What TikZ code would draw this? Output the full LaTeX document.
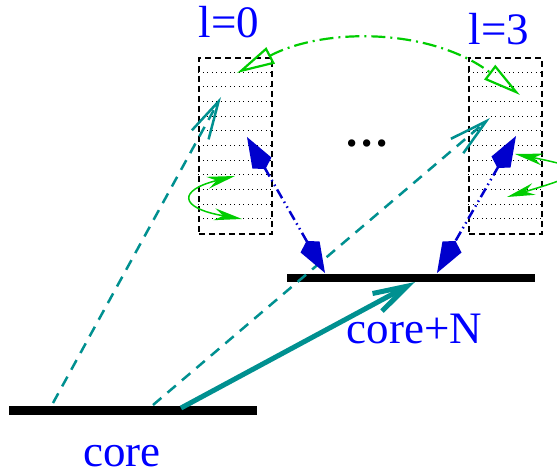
\documentclass[tikz,border=0pt]{standalone}
\usepackage{fontspec}
\setmainfont{Liberation Serif}
\usetikzlibrary{arrows.meta}
\definecolor{fteal}{RGB}{0,144,144}
\definecolor{fblue}{RGB}{0,0,205}
\definecolor{fgreen}{RGB}{0,205,0}

\begin{document}
\begin{tikzpicture}[x=1pt, y=1pt,
    lab/.style={text=blue, font=\fontsize{45}{50}\selectfont, anchor=base, inner sep=0pt},
    level/.style={draw, dash pattern=on 6pt off 4pt, line width=1.2pt, minimum width=73pt, minimum height=176pt, inner sep=0pt},
    slot/.style={dash pattern=on 1pt off 3.5pt, line width=1pt},
    bar/.style={line width=9pt},
    jump/.style={fteal, line width=5pt, -{Straight Barb[length=34pt, width=20pt]}},
    virt/.style={fteal, line width=2.5pt, dash pattern=on 11pt off 8pt, -{Straight Barb[length=38pt, width=19pt]}},
    coupl/.style={fblue, line width=2.5pt, dash pattern=on 10pt off 4pt on 1.5pt off 4pt on 1.5pt off 4pt,
        {Kite[length=37pt, width=22pt, inset=7pt]}-{Kite[length=37pt, width=22pt, inset=7pt]}},
    hop/.style={fgreen, line width=2.2pt, dash pattern=on 14pt off 5pt on 2pt off 5pt,
        {Triangle[open, length=38pt, width=18pt]}-{Triangle[open, length=38pt, width=18pt]}},
    spin/.style={fgreen, line width=1.5pt, {Stealth[length=28pt, width=12pt]}-{Stealth[length=28pt, width=12pt]}}
]
\useasboundingbox (0,0) rectangle (557,475);

% Livelli
\node[level] (box0) at (235.5,329) {};
\node[level] (box3) at (505.5,329) {};
\foreach \k in {1,...,11} {
    \draw[slot] ([yshift=-\k*14.67pt]box0.north west) -- ([yshift=-\k*14.67pt]box0.north east);
    \draw[slot] ([yshift=-\k*14.67pt]box3.north west) -- ([yshift=-\k*14.67pt]box3.north east);
}
\node[lab] (l0) at (229,437) {l=0};
\node[lab] (l3) at (499,430) {l=3};
\node[font=\fontsize{45}{50}\selectfont\bfseries, anchor=base, inner sep=0pt] (dots) at (367,328) {.\kern4pt.\kern4pt.};

% Barre
\coordinate (c1) at (9,65);
\coordinate (c2) at (257,65);
\coordinate (n1) at (287,197);
\coordinate (n2) at (535,197);
\draw[bar] (c1) -- (c2);
\draw[bar, line width=8pt] (n1) -- (n2);
\node[lab] (core) at (122,9) {core};
\node[lab] (coreN) at (414.5,132) {core+N};

% Frecce
\coordinate (s0) at (181,67);
\coordinate (t0) at (415,193);
\draw[jump] (s0) -- (t0);

\coordinate (s1) at (53,72);
\coordinate (t1) at (221,378);
\coordinate (s2) at (153,70);
\coordinate (t2) at (490,357);
\draw[virt] (s1) -- (t1);
\draw[virt] (s2) -- (t2);

\coordinate (b1) at (247,338);
\coordinate (e1) at (325,202);
\coordinate (b2) at (516,339);
\coordinate (e2) at (437,202);
\draw[coupl] (b1) -- (e1);
\draw[coupl] (b2) -- (e2);

\coordinate (a0) at (237,402);
\coordinate (a3) at (520,380);
\draw[hop] (a0) .. controls (325,448) and (431,447) .. (a3);

\coordinate (g1) at (235,299);
\coordinate (g2) at (242,256);
\coordinate (h1) at (515,321);
\coordinate (h2) at (507,278);
\draw[spin] (g1) .. controls (178,285) and (178,267) .. (g2);
\draw[spin] (h1) .. controls (590,306) and (588,302) .. (h2);

\end{tikzpicture}
\end{document}
